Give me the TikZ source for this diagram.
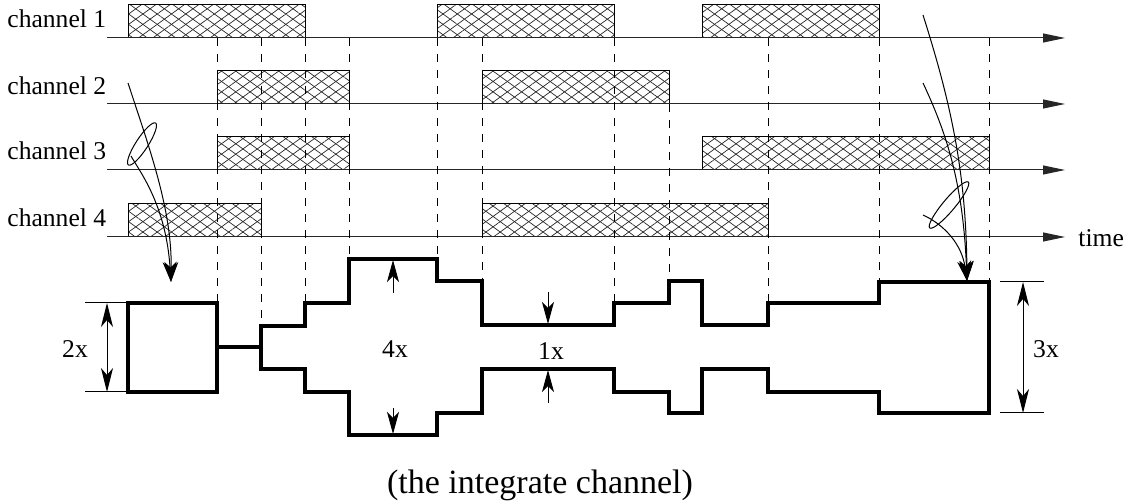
\documentclass[tikz,border=0pt]{standalone}
\usepackage{fontspec}
\setmainfont{Liberation Serif}
\usetikzlibrary{patterns.meta,arrows.meta}
\newcommand\hatchrect[4]{%
  \fill[pattern={Lines[angle=36,distance=4.2pt,line width=0.35pt]},pattern color=black!85] (#1,#2) rectangle (#3,#4);
  \fill[pattern={Lines[angle=-36,distance=4.2pt,line width=0.35pt]},pattern color=black!85] (#1,#2) rectangle (#3,#4);
  \draw[boxline] (#1,#2) rectangle (#3,#4);}
\begin{document}
\begin{tikzpicture}[x=0.5pt,y=-0.5pt,
  every node/.style={font=\fontsize{12.8}{15}\selectfont, inner sep=0pt},
  tline/.style={line width=0.5pt, draw=black!85, -{Triangle[length=11pt,width=4.5pt]}},
  boxline/.style={line width=0.5pt},
  dash line/.style={line width=0.5pt, dash pattern=on 4pt off 4pt},
  shape line/.style={line width=2pt, line join=miter},
  dimline/.style={line width=0.5pt},
  sarrow/.style={line width=0.5pt, -{Stealth[length=11pt,width=6pt,inset=3pt]}},
  dimarrow/.style={line width=0.5pt, {Stealth[length=12pt,width=6pt,inset=3.5pt]}-{Stealth[length=12pt,width=6pt,inset=3.5pt]}},
  curvearrow/.style={line width=0.5pt, -{Stealth[length=10pt,width=7pt,inset=3pt]}},
  thincurve/.style={line width=0.5pt}]
\useasboundingbox (0,0) rectangle (1131,502);

% hatched activity boxes
\hatchrect{128}{5}{305}{38}
\hatchrect{437}{5}{614}{38}
\hatchrect{702}{5}{879}{38}
\hatchrect{217}{71}{349}{104}
\hatchrect{482}{71}{669}{104}
\hatchrect{217}{137}{349}{170}
\hatchrect{702}{137}{989}{170}
\hatchrect{128}{204}{261}{237}
\hatchrect{482}{204}{768}{237}

% time lines
\coordinate (l1s) at (107,38);  \coordinate (l1e) at (1065,38);
\coordinate (l2s) at (107,104); \coordinate (l2e) at (1065,104);
\coordinate (l3s) at (107,170); \coordinate (l3e) at (1065,170);
\coordinate (l4s) at (107,237); \coordinate (l4e) at (1065,237);
\draw[tline] (l1s) -- (l1e);
\draw[tline] (l2s) -- (l2e);
\draw[tline] (l3s) -- (l3e);
\draw[tline] (l4s) -- (l4e);

% labels
\node[anchor=base west] (ch1) at (7,28) {channel 1};
\node[anchor=base west] (ch2) at (7,95) {channel 2};
\node[anchor=base west] (ch3) at (7,160) {channel 3};
\node[anchor=base west] (ch4) at (7,227) {channel 4};
\node[anchor=base west] (time) at (1078,247) {time};

% dashed guide lines
\foreach \x/\yb in {217/303,261/326,305/303,349/259,437/259,482/281,614/303,768/303,879/282,989/282}
  \draw[dash line] (\x,38) -- (\x,\yb);
\draw[dash line] (669,104) -- (669,281);

% integrated channel
\draw[shape line] (128,303) rectangle (217,392);
\draw[shape line] (217,347) -- (261,347);
\draw[shape line] (261,326) -- (305,326) -- (305,303) -- (349,303) -- (349,259)
  -- (437,259) -- (437,281) -- (482,281) -- (482,325) -- (614,325) -- (614,303)
  -- (669,303) -- (669,281) -- (702,281) -- (702,325) -- (768,325) -- (768,303)
  -- (879,303) -- (879,282) -- (989,282) -- (989,413) -- (879,413) -- (879,392)
  -- (768,392) -- (768,369) -- (702,369) -- (702,413) -- (669,413) -- (669,392)
  -- (614,392) -- (614,369) -- (482,369) -- (482,413) -- (437,413) -- (437,435)
  -- (349,435) -- (349,392) -- (305,392) -- (305,369) -- (261,369) -- cycle;

% dimensions
\draw[dimline] (85,303) -- (128,303);
\draw[dimline] (85,392) -- (128,392);
\draw[dimarrow] (107,303) -- (107,392);
\node[anchor=base] (d2) at (75,358) {2x};
\draw[dimline] (1000,282) -- (1044,282);
\draw[dimline] (1000,413) -- (1044,413);
\draw[dimarrow] (1023,282) -- (1023,413);
\node[anchor=base] (d3) at (1046,358) {3x};
\node[anchor=base] (d4) at (395,358) {4x};
\draw[sarrow] (393,293) -- (393,260);
\draw[sarrow] (393,408) -- (393,434);
\node[anchor=base] (d1) at (551,360) {1x};
\draw[sarrow] (548,292) -- (548,324);
\draw[sarrow] (548,403) -- (548,370);

% curved arrows, left
\coordinate (la) at (128,83);
\coordinate (lb) at (131,156);
\coordinate (ltip) at (171,282);
\draw[curvearrow] (la) .. controls (150,150) and (172,210) .. (ltip);
\draw[curvearrow] (lb) .. controls (140,172) and (166,205) .. (ltip);
\draw[thincurve, rotate around={57:(142,144)}] (142,144) ellipse [x radius=25, y radius=6];

% curved arrows, right
\coordinate (ra) at (923,15);
\coordinate (rb) at (923,83);
\coordinate (rc) at (923,215);
\coordinate (rtip) at (967,281);
\draw[curvearrow] (ra) .. controls (950,100) and (966,170) .. (rtip);
\draw[curvearrow] (rb) .. controls (945,130) and (963,180) .. (rtip);
\draw[curvearrow] (rc) .. controls (945,225) and (962,245) .. (rtip);
\draw[thincurve, rotate around={50:(949,205)}] (949,205) ellipse [x radius=30, y radius=6];

\node[font=\fontsize{17}{20}\selectfont] (cap) at (540,485) {(the integrate channel)};
\end{tikzpicture}
\end{document}
